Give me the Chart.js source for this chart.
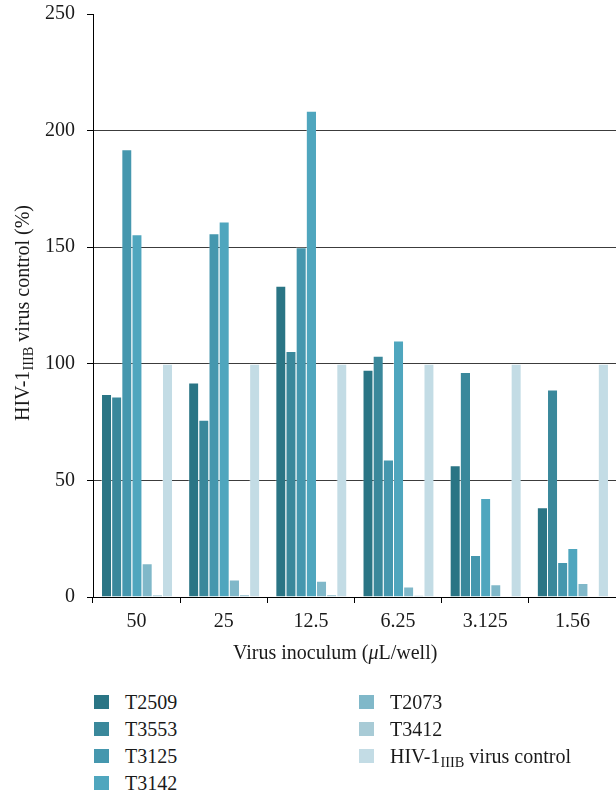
<!DOCTYPE html>
<html>
<head>
<meta charset="utf-8">
<script src="https://cdn.jsdelivr.net/npm/chart.js@4.4.0/dist/chart.umd.min.js"></script>
<style>
  html, body { margin: 0; padding: 0; background: #fff; }
  #wrap { position: relative; width: 616px; height: 792px; overflow: hidden; font-family: "Liberation Serif", "Times New Roman", "DejaVu Serif", serif; color: #1a1a1a; }
  #c { position: absolute; left: 0; top: 0; }
  .ytitle { position: absolute; left: 22px; top: 313px; transform: translate(-50%, -50%) rotate(-90deg); white-space: nowrap; font-size: 20px; line-height: 24px; }
  .xtitle { position: absolute; left: 233px; top: 640px; white-space: nowrap; font-size: 20px; line-height: 24px; }
  sub { font-size: 0.72em; vertical-align: -0.28em; line-height: 0; }
  .leg { position: absolute; white-space: nowrap; font-size: 20px; line-height: 24px; }
  .leg .sw { position: absolute; left: 0; top: 5px; width: 15px; height: 14px; }
  .leg .tx { position: absolute; left: 31px; top: 0; }
</style>
</head>
<body>
<div id="wrap">
  <canvas id="c" width="616" height="670"></canvas>
  <div class="ytitle">HIV-1<sub>IIIB</sub> virus control (%)</div>
  <div class="xtitle">Virus inoculum (<i>μ</i>L/well)</div>
  <div id="legend"></div>
</div>
<script>
// ---- data ----
const categories = ['50', '25', '12.5', '6.25', '3.125', '1.56'];
const t2509   = [87, 92, 133.5, 97.5, 56.5, 38.5];
const t3553   = [86, 76, 105.5, 103.5, 96.5, 89];
const t3125   = [192, 156, 150, 59, 18, 15];
const t3142   = [155.5, 161, 208.5, 110, 42.5, 21];
const t2073   = [14.5, 7.5, 7, 4.5, 5.5, 6];
const t3412   = [1.2, 1.3, 1.3, 0.9, 0, 0];
const control = [100, 100, 100, 100, 100, 100];
const seriesNames = ['T2509', 'T3553', 'T3125', 'T3142', 'T2073', 'T3412', 'HIV-1IIIB virus control'];
const yMin = 0, yMax = 250, yStep = 50;

const colors = ['#2a7585', '#3a889b', '#4597ae', '#4fa6be', '#80b8c9', '#a8cbd6', '#c3dce5'];
const seriesData = [t2509, t3553, t3125, t3142, t2073, t3412, control];

Chart.defaults.font.family = '"Liberation Serif", "Times New Roman", "DejaVu Serif", serif';
Chart.defaults.color = '#1a1a1a';

const datasets = seriesData.map((d, i) => ({
  label: seriesNames[i],
  data: d,
  backgroundColor: colors[i],
  borderColor: 'rgba(255,255,255,0.35)',
  borderWidth: { top: 1, left: 1, right: 0, bottom: 0 },
  borderSkipped: false,
  categoryPercentage: 0.816,
  barPercentage: 1.0
}));

new Chart(document.getElementById('c'), {
  type: 'bar',
  data: { labels: categories, datasets },
  options: {
    responsive: false,
    animation: false,
    devicePixelRatio: 1,
    layout: { padding: { top: 14, right: 0, left: 0, bottom: 0 } },
    plugins: { legend: { display: false }, tooltip: { enabled: false } },
    scales: {
      x: {
        grid: { offset: true, drawOnChartArea: false, drawTicks: true, tickLength: 6, tickColor: '#000', color: '#000' },
        border: { color: '#000', width: 1 },
        ticks: { font: { size: 20 }, padding: 7, color: '#1a1a1a', maxRotation: 0 },
        afterFit: s => { s.height = 73; s.paddingLeft = 0; s.paddingRight = 0; }
      },
      y: {
        min: yMin, max: yMax,
        grid: {
          color: c => (c.tick && (c.tick.value === yMax || c.tick.value === yMin)) ? 'rgba(0,0,0,0)' : '#3c3c3c',
          tickColor: '#000', tickLength: 6, lineWidth: 1
        },
        border: { color: '#000', width: 1 },
        ticks: { stepSize: yStep, font: { size: 20 }, padding: 12, color: '#1a1a1a' },
        afterFit: s => { s.width = 93; s.paddingTop = 0; s.paddingBottom = 0; }
      }
    }
  }
});

// HTML legend (two columns)
const legendPos = [
  [94, 690], [94, 717], [94, 744], [94, 771],
  [359, 690], [359, 717], [359, 744]
];
const legendHTML = ['T2509', 'T3553', 'T3125', 'T3142', 'T2073', 'T3412', 'HIV-1<sub>IIIB</sub> virus control'];
const lg = document.getElementById('legend');
legendPos.forEach((p, i) => {
  const d = document.createElement('div');
  d.className = 'leg';
  d.style.left = p[0] + 'px';
  d.style.top = p[1] + 'px';
  d.innerHTML = '<span class="sw" style="background:' + colors[i] + '"></span><span class="tx">' + legendHTML[i] + '</span>';
  lg.appendChild(d);
});
</script>
</body>
</html>
